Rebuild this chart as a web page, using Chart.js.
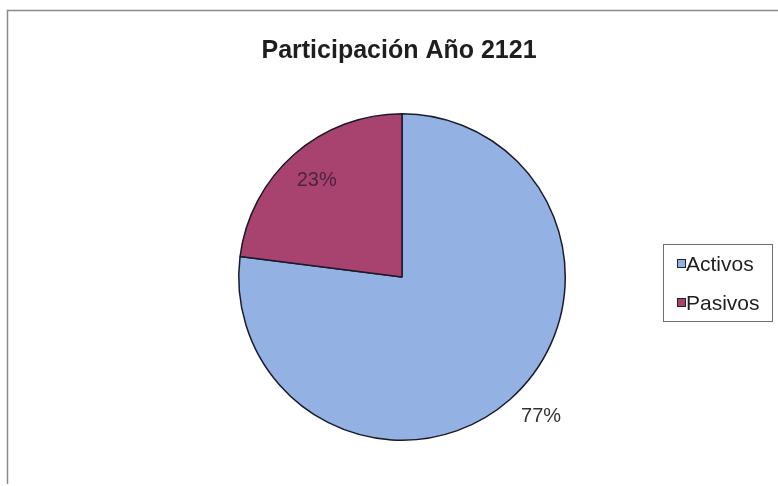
<!DOCTYPE html>
<html>
<head>
<meta charset="utf-8">
<script src="https://cdn.jsdelivr.net/npm/chart.js@4"></script>
<style>
  html, body { margin: 0; padding: 0; background: #fff; }
  #wrap { width: 778px; height: 486px; position: relative; }
</style>
</head>
<body>
<div id="wrap"><canvas id="pie" width="778" height="486"></canvas></div>
<script>
// Pie of asset/liability share, scanned-report look.
const labels = ["Activos", "Pasivos"];
const values = [77, 23];
const colors = ["#93b1e2", "#a8436f"];
const pctColors = ["#333333", "#4a2440"];
const title = "Participación Año 2121";

const FONT = "'Liberation Sans', Arial, sans-serif";

// frame, title, slice labels and boxed legend drawn by hand to match the old office chart
const decor = {
  id: "decor",
  beforeDraw(chart) {
    const c = chart.ctx;
    c.save();
    c.fillStyle = "#fff";
    c.fillRect(0, 0, chart.width, chart.height);
    c.strokeStyle = "#8a8a8a";
    c.lineWidth = 1.5;
    c.beginPath();
    c.moveTo(7.5, 484);
    c.lineTo(7.5, 10.5);
    c.lineTo(chart.width + 2, 10.5);
    c.stroke();
    c.restore();
  },
  afterDraw(chart) {
    const c = chart.ctx;
    const arcs = chart.getDatasetMeta(0).data;
    c.save();
    c.fillStyle = "#1e1e1e";
    c.font = `bold 25px ${FONT}`;
    c.textAlign = "center";
    c.textBaseline = "alphabetic";
    c.fillText(title, 399, 58);

    // percentage labels: 23% inside its slice, 77% just outside
    c.font = `20px ${FONT}`;
    c.textBaseline = "middle";
    const total = values.reduce((a, b) => a + b, 0);
    arcs.forEach((a, i) => {
      const mid = (a.startAngle + a.endAngle) / 2 - (i === 0 ? 0.06 : 0);
      const r = i === 0 ? a.outerRadius + 34 : a.outerRadius * 0.79;
      c.fillStyle = pctColors[i];
      c.fillText(Math.round(values[i] / total * 100) + "%", a.x + Math.cos(mid) * r, a.y + Math.sin(mid) * r);
    });

    // legend box
    c.strokeStyle = "#6e6e6e";
    c.lineWidth = 1;
    c.strokeRect(663.5, 244.5, 109, 77);
    c.font = `21px ${FONT}`;
    c.textAlign = "left";
    labels.forEach((l, i) => {
      const y = 264 + i * 39;
      c.fillStyle = colors[i];
      c.fillRect(677, y - 4, 8, 8);
      c.strokeStyle = "#222";
      c.strokeRect(677.5, y - 4.5, 8, 8);
      c.fillStyle = "#1e1e1e";
      c.fillText(l, 686, y + 1);
    });
    c.restore();
  },
};

new Chart(document.getElementById("pie"), {
  type: "pie",
  data: {
    labels,
    datasets: [{
      data: values,
      backgroundColor: colors,
      borderColor: "#1a1a2a",
      borderWidth: 1.5,
    }],
  },
  options: {
    responsive: false,
    animation: false,
    layout: { padding: { top: 113, bottom: 45, left: 202, right: 176 } },
    plugins: {
      legend: { display: false },
      title: { display: false },
      tooltip: { enabled: false },
    },
  },
  plugins: [decor],
});
</script>
</body>
</html>
